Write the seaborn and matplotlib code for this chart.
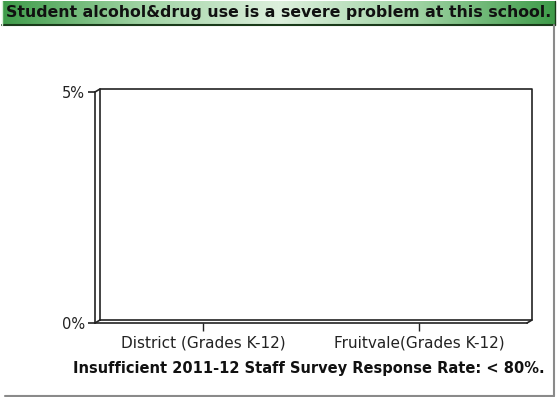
import numpy as np
import pandas as pd
import matplotlib
matplotlib.use("Agg")
import matplotlib.pyplot as plt
import matplotlib.transforms as mtransforms
from matplotlib.lines import Line2D
from matplotlib.colors import LinearSegmentedColormap
import seaborn as sns

# ---- data ----
categories = ["District (Grades K-12)", "Fruitvale(Grades K-12)"]
values = [0.0, 0.0]
y_ticks = [0, 5]
y_tick_labels = ["0%", "5%"]
title = "Student alcohol&drug use is a severe problem at this school."
note = "Insufficient 2011-12 Staff Survey Response Rate: < 80%."

sns.set_style("white")
plt.rcParams['font.family'] = ['DejaVu Sans']

W, H = 557, 397
fig = plt.figure(figsize=(W / 100, H / 100), dpi=100)
fig.patch.set_facecolor("white")

def fx(px):
    return px / W

def fy(py):
    return 1 - py / H

# ---- title bar with gradient ----
tb = fig.add_axes([fx(2), fy(25), fx(553), 24 / H])
grad = np.abs(np.linspace(-1, 1, 400))
grad = np.tile(grad, (10, 1))
cmap = LinearSegmentedColormap.from_list("g", ["#dcefdc", "#9fd3a3", "#3f9c4a"])
tb.imshow(grad, aspect="auto", cmap=cmap, extent=[0, 1, 0, 1])
tb.set_xlim(0, 1); tb.set_ylim(0, 1)
tb.set_xticks([]); tb.set_yticks([])
for s in tb.spines.values():
    s.set_visible(False)
tb.add_line(Line2D([0, 1], [0, 0], color="#1a3a1a", lw=1.5, transform=tb.transAxes, clip_on=False))
tb.add_line(Line2D([1, 1], [0, 1], color="#1a3a1a", lw=1.0, transform=tb.transAxes, clip_on=False))
tb.add_line(Line2D([0, 0], [0, 1], color="#d8f0d8", lw=1.0, transform=tb.transAxes, clip_on=False))
tb.text(0.5, 0.5, title, ha="center", va="center", fontsize=11.3, fontweight="bold",
        color="#111111", transform=tb.transAxes)

# ---- main axes (front face) ----
ax = fig.add_axes([fx(95), fy(323), fx(527) - fx(95), (323 - 92) / H])
df = pd.DataFrame({"cat": categories, "val": values})
sns.barplot(data=df, x="cat", y="val", ax=ax, color="#3f9c4a", width=0.5)
ax.set_xlim(-0.5, 1.5)
ax.set_ylim(0, 5)
ax.set_yticks(y_ticks)
ax.set_yticklabels(y_tick_labels)
ax.set_xlabel(""); ax.set_ylabel("")
ax.patch.set_alpha(0)
for s in ["top", "right"]:
    ax.spines[s].set_visible(False)
for s in ["left", "bottom"]:
    ax.spines[s].set_color("#222222")
    ax.spines[s].set_linewidth(1.2)
ax.tick_params(axis="y", length=5, width=1.2, color="#222222", pad=2, labelsize=10.5, labelcolor="#222222", left=True)
ax.tick_params(axis="x", length=6, width=1.0, color="#222222", pad=3, labelsize=11, labelcolor="#222222", bottom=True)

# back wall offset (3D look)
off = mtransforms.ScaledTranslation(5 / 100, 3 / 100, fig.dpi_scale_trans)
tback = ax.transAxes + off
kw = dict(color="#222222", lw=1.2, clip_on=False)
ax.add_line(Line2D([0, 1, 1, 0, 0], [0, 0, 1, 1, 0], transform=tback, **kw))
# connectors between front and back corners
for (xa, ya) in [(0, 1), (0, 0), (1, 0)]:
    p0 = ax.transAxes.transform((xa, ya))
    p1 = tback.transform((xa, ya))
    fig.add_artist(Line2D([p0[0] / W, p1[0] / W], [p0[1] / H, p1[1] / H],
                          transform=fig.transFigure, color="#222222", lw=1.2))

# ---- note ----
fig.text(fx(545), fy(369), note, ha="right", va="center", fontsize=10.5, fontweight="bold", color="#111111")

# ---- figure border lines ----
fig.add_artist(Line2D([fx(553.5), fx(553.5)], [fy(25), fy(396)], color="#8a8a8a", lw=1.5, transform=fig.transFigure))
fig.add_artist(Line2D([fx(5), fx(554)], [fy(395.5), fy(395.5)], color="#8a8a8a", lw=1.5, transform=fig.transFigure))

fig.savefig("out.png", dpi=100)
